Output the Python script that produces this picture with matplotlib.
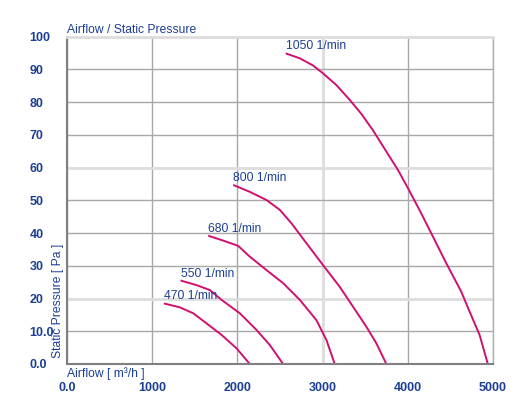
import matplotlib
matplotlib.use("Agg")
import matplotlib.pyplot as plt

plt.rcParams['font.family'] = ['Liberation Sans', 'DejaVu Sans']

# fan curves: airflow [m3/h] vs static pressure [Pa]
flow_470 = [1137, 1325, 1481, 1638, 1813, 1989, 2145]
pres_470 = [18.5, 17.3, 15.5, 12.4, 8.9, 4.8, 0.0]

flow_550 = [1333, 1520, 1676, 1813, 2028, 2224, 2380, 2536]
pres_550 = [25.5, 24.1, 22.6, 19.6, 15.5, 10.4, 5.8, 0.0]

flow_680 = [1657, 1833, 2008, 2145, 2341, 2536, 2732, 2927, 3045, 3142]
pres_680 = [39.2, 37.7, 36.1, 32.8, 28.7, 24.7, 19.6, 13.4, 7.3, 0.0]

flow_800 = [1950, 2145, 2341, 2497, 2634, 2810, 3005, 3200, 3357, 3513, 3631, 3748]
pres_800 = [54.7, 52.6, 50.1, 47.1, 43.0, 36.9, 30.2, 23.6, 17.5, 11.4, 6.3, 0.0]

flow_1050 = [2567, 2732, 2888, 3005, 3162, 3318, 3455, 3591, 3748, 3884, 4002,
             4158, 4295, 4451, 4627, 4725, 4842, 4939]
pres_1050 = [94.9, 93.4, 91.2, 88.8, 85.2, 80.7, 76.4, 71.4, 64.9, 59.3, 53.7,
             46.0, 38.9, 30.8, 22.1, 16.0, 8.9, 0.0]

curves = [
    ("470 1/min", flow_470, pres_470),
    ("550 1/min", flow_550, pres_550),
    ("680 1/min", flow_680, pres_680),
    ("800 1/min", flow_800, pres_800),
    ("1050 1/min", flow_1050, pres_1050),
]

x_ticks = [0, 1000, 2000, 3000, 4000, 5000]
x_labels = ["0.0", "1000", "2000", "3000", "4000", "5000"]
y_ticks = [0, 10, 20, 30, 40, 50, 60, 70, 80, 90, 100]
y_labels = ["0.0", "10.0", "20", "30", "40", "50", "60", "70", "80", "90", "100"]

text_col = "#1c3f94"
line_col = "#d0106f"

fig = plt.figure(figsize=(5.29, 4.11), dpi=100)
ax = fig.add_axes([0.1267, 0.1144, 0.8053, 0.7963])

for name, fl, pr in curves:
    ax.plot(fl, pr, color=line_col, lw=1.4, solid_capstyle="butt",
            solid_joinstyle="round")
    ax.text(fl[0], pr[0] + 0.3, name, color=text_col, fontsize=8.7,
            ha="left", va="bottom")

ax.set_xlim(0, 5000)
ax.set_ylim(0, 100)
ax.set_xticks(x_ticks)
ax.set_xticklabels(x_labels)
ax.set_yticks(y_ticks)
ax.set_yticklabels(y_labels)

ax.tick_params(axis="both", length=0, labelsize=9, labelcolor=text_col)
ax.tick_params(axis="x", pad=13)
ax.tick_params(axis="y", pad=27)
for lbl in ax.get_yticklabels():
    lbl.set_ha("left")
    lbl.set_fontweight("bold")
for lbl in ax.get_xticklabels():
    lbl.set_fontweight("bold")

ax.grid(True, color="#a8a8a8", lw=1.0)
ax.set_axisbelow(True)
# a few grid lines are drawn lighter and wider in the original
for i, gl in enumerate(ax.yaxis.get_gridlines()):
    if y_ticks[i] in (20, 60):
        gl.set_color("#dddddd")
        gl.set_linewidth(2.0)
for i, gl in enumerate(ax.xaxis.get_gridlines()):
    if x_ticks[i] == 3000:
        gl.set_color("#dddddd")
        gl.set_linewidth(2.0)

ax.spines["left"].set_color("#808080")
ax.spines["bottom"].set_color("#808080")
ax.spines["left"].set_linewidth(1.5)
ax.spines["bottom"].set_linewidth(1.5)
ax.spines["top"].set_color("#dddddd")
ax.spines["top"].set_linewidth(2.0)
ax.spines["right"].set_color("#b0b0b0")
ax.spines["right"].set_linewidth(1.0)

fig.text(67 / 529, 1 - 33 / 411, "Airflow / Static Pressure", color=text_col,
         fontsize=8.7, ha="left", va="baseline")
fig.text(67 / 529, 1 - 380 / 411, "Airflow [ m³/h ]", color=text_col,
         fontsize=8.7, ha="left", va="bottom")
fig.text(58 / 529, 1 - 358 / 411, "Static Pressure [ Pa ]", color=text_col,
         fontsize=8.7, rotation=90, ha="center", va="bottom")

fig.savefig("out.png", dpi=100)
